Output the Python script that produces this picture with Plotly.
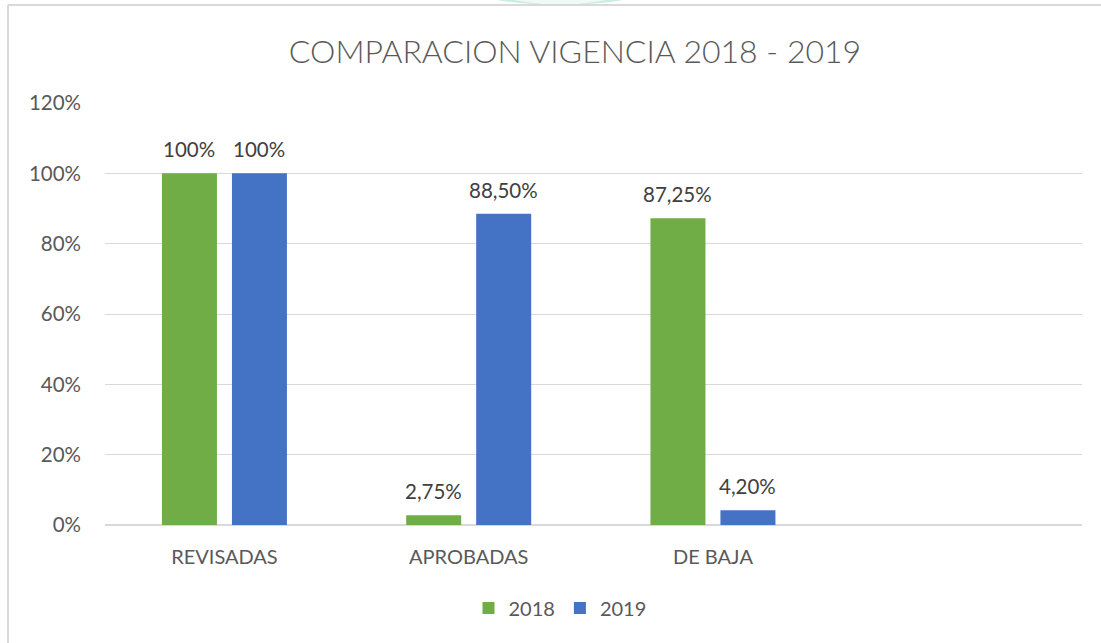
import plotly.graph_objects as go

categories = ["REVISADAS", "APROBADAS", "DE BAJA"]
series_names = ["2018", "2019"]
values_2018 = [1.00, 0.0275, 0.8725]
values_2019 = [1.00, 0.885, 0.042]
labels_2018 = ["100%", "2,75%", "87,25%"]
labels_2019 = ["100%", "88,50%", "4,20%"]
colors = ["#70ad47", "#4472c4"]

W, H = 1101, 643
L, R, T, B = 105, 1082, 103, 525
FONT = "Lato"
TXT = "#595959"


def px(x):
    return (x - L) / (R - L)


def py(y):
    return (B - y) / (B - T)


fig = go.Figure()
shift = [-35, 35]
annotations = []
for i, (name, vals, labs, col) in enumerate(zip(series_names, [values_2018, values_2019],
                                                [labels_2018, labels_2019], colors)):
    fig.add_trace(go.Bar(
        x=categories, y=vals, name=name, marker_color=col,
        marker_line_width=0, hoverinfo="skip",
    ))
    for c, v, t in zip(categories, vals, labs):
        annotations.append(dict(
            x=c, y=v, text=t, showarrow=False, xshift=shift[i], yshift=10,
            yanchor="bottom", xanchor="center",
            font=dict(family=FONT, size=20.5, color="#404040"),
        ))

shapes = [
    # faint watermark arc at the top
    dict(type="circle", xref="paper", yref="paper", x0=px(420), x1=px(700),
         y0=py(-90), y1=py(5), fillcolor="#c8efdc", line_width=0, layer="below"),
    dict(type="circle", xref="paper", yref="paper", x0=px(470), x1=px(650),
         y0=py(-60), y1=py(4.5), fillcolor="#eefaf4", line_width=0, layer="below"),
    # chart border (top + left)
    dict(type="line", xref="paper", yref="paper", x0=px(8), x1=px(W + 5),
         y0=py(5), y1=py(5), line=dict(color="#d9d9d9", width=2), layer="above"),
    dict(type="line", xref="paper", yref="paper", x0=px(8), x1=px(8),
         y0=py(5), y1=py(H + 5), line=dict(color="#d9d9d9", width=2), layer="above"),
]

fig.update_layout(
    width=W, height=H,
    margin=dict(l=L, r=W - R, t=T, b=H - B, pad=0),
    paper_bgcolor="white", plot_bgcolor="white",
    title=dict(text="COMPARACION VIGENCIA 2018 - 2019", x=575 / W, xanchor="center",
               y=1 - 52 / H, yanchor="middle",
               font=dict(family=FONT, size=32, color=TXT, weight=300)),
    barmode="group", bargap=0.427, bargroupgap=0.214,
    showlegend=True,
    legend=dict(orientation="h", x=px(560), xanchor="center", y=py(608), yanchor="middle",
                font=dict(family=FONT, size=20, color=TXT), itemwidth=30,
                traceorder="normal"),
    xaxis=dict(type="category", range=[-0.489, 3.511], showgrid=False, showline=False,
               zeroline=False, ticks="", tickfont=dict(family=FONT, size=20, color=TXT),
               ticklabelstandoff=18, fixedrange=True),
    yaxis=dict(range=[0, 1.2], dtick=0.2, tickformat=".0%", showgrid=True,
               gridcolor="#d9d9d9", gridwidth=1, zeroline=True, zerolinecolor="#d9d9d9",
               zerolinewidth=1.5, showline=False, ticks="",
               tickfont=dict(family=FONT, size=20.5, color=TXT), ticklabelstandoff=23,
               fixedrange=True),
    shapes=shapes,
    annotations=annotations,
    font=dict(family=FONT, color=TXT),
)

fig.write_html("out.html", config={"displayModeBar": False},
               post_script="document.body.style.margin='0';")
